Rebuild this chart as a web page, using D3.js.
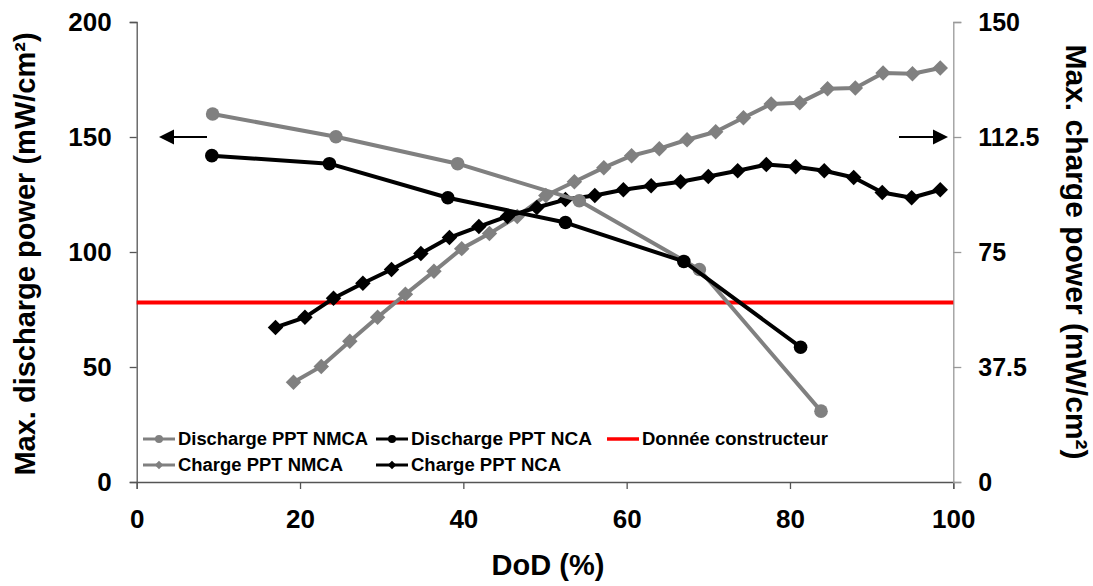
<!DOCTYPE html>
<html><head><meta charset="utf-8">
<script src="https://cdn.jsdelivr.net/npm/d3@7"></script>
<style>
html,body{margin:0;padding:0;background:#fff;}
text{font-family:"Liberation Sans",Arial,sans-serif;font-weight:bold;fill:#000;}
</style></head>
<body>
<svg id="chart" width="1093" height="586"></svg>
<script>
// ---- data ----
const dischargeNMCA_x = [9.3, 24.4, 39.3, 54.2, 68.9, 83.8];
const dischargeNMCA_y = [160, 150.1, 138.4, 122.3, 92.4, 30.8];
const dischargeNCA_x = [9.2, 23.6, 38.1, 52.5, 67.0, 81.3];
const dischargeNCA_y = [141.9, 138.4, 123.6, 112.8, 95.9, 58.6];
const chargeNMCA_x = [19.2, 22.6, 26.1, 29.5, 32.9, 36.4, 39.8, 43.2, 46.6, 50.1, 53.6, 57.2, 60.6, 64.0, 67.4, 70.9, 74.3, 77.7, 81.2, 84.6, 88.0, 91.4, 95.0, 98.4];
const chargeNMCA_y = [32.5, 37.7, 45.9, 53.7, 61.2, 68.7, 76.1, 81.0, 86.6, 93.4, 97.9, 102.5, 106.4, 108.7, 111.6, 114.2, 118.8, 123.3, 123.7, 128.2, 128.5, 133.4, 133.1, 135.0];
const chargeNCA_x = [17.0, 20.6, 24.1, 27.7, 31.2, 34.8, 38.3, 41.9, 45.4, 49.0, 52.5, 56.1, 59.6, 63.0, 66.6, 70.0, 73.6, 77.1, 80.7, 84.2, 87.8, 91.3, 94.9, 98.4];
const chargeNCA_y = [50.4, 53.7, 59.9, 64.8, 69.3, 74.5, 79.7, 83.3, 86.6, 89.5, 92.1, 93.4, 95.3, 96.6, 97.9, 99.6, 101.5, 103.5, 102.8, 101.5, 99.3, 94.4, 92.7, 95.3];
const constructeurValue = 78;
const xTicks = [0, 20, 40, 60, 80, 100];
const yLeftTicks = [0, 50, 100, 150, 200];
const yRightTicks = [0, 37.5, 75, 112.5, 150];
const legendLabels = ["Discharge PPT NMCA", "Discharge PPT NCA", "Donnée constructeur", "Charge PPT NMCA", "Charge PPT NCA"];

// ---- layout ----
const svg = d3.select("#chart");
const L = 136.7, R = 953.3, T = 22, B = 482;
const x = d3.scaleLinear().domain([0, 100]).range([L, R]);
const yL = d3.scaleLinear().domain([0, 200]).range([B, T]);
const yR = d3.scaleLinear().domain([0, 150]).range([B, T]);
const GRAY = "#808080";

// axes
const xAxis = svg.append("g").attr("transform", `translate(0,${B})`)
  .call(d3.axisBottom(x).tickValues(xTicks).tickSize(7).tickPadding(21).tickFormat(d3.format("d")));
const yAxisL = svg.append("g").attr("transform", `translate(${L},0)`)
  .call(d3.axisLeft(yL).tickValues(yLeftTicks).tickSize(7).tickPadding(18).tickFormat(d3.format("d")));
const yAxisR = svg.append("g").attr("transform", `translate(${R},0)`)
  .call(d3.axisRight(yR).tickValues(yRightTicks).tickSize(8).tickPadding(17).tickFormat(d => d));
[xAxis, yAxisL, yAxisR].forEach(g => {
  g.select(".domain").attr("stroke", "#555").attr("stroke-width", 1.3);
  g.selectAll(".tick line").attr("stroke", "#555").attr("stroke-width", 1.3);
  g.selectAll(".tick text").style("font-size", "26px").style("font-family", '"Liberation Sans",Arial,sans-serif').style("font-weight", "bold").attr("fill", "#000");
});
yAxisR.selectAll(".tick text").style("font-size", "25px");
yAxisR.select(".domain").attr("stroke", "#999");
yAxisR.selectAll(".tick line").attr("stroke", "#999");
xAxis.selectAll(".tick text").attr("dy", "0.71em");

// axis titles
svg.append("text").attr("x", 548).attr("y", 575).attr("text-anchor", "middle")
  .style("font-size", "29px").text("DoD (%)");
svg.append("text").attr("transform", `translate(35,254) rotate(-90)`).attr("text-anchor", "middle")
  .style("font-size", "29px").text("Max. discharge power (mW/cm²)");
svg.append("text").attr("transform", `translate(1066,252) rotate(90)`).attr("text-anchor", "middle")
  .style("font-size", "30px").text("Max. charge power (mW/cm²)");

// red line
svg.append("line").attr("x1", L).attr("x2", R).attr("y1", yL(constructeurValue)).attr("y2", yL(constructeurValue))
  .attr("stroke", "#ff0000").attr("stroke-width", 4);

// series
const diamond = d3.symbol().type(d3.symbolSquare).size(120);
function drawSeries(xs, ys, yScale, color, marker) {
  const pts = xs.map((v, i) => [x(v), yScale(ys[i])]);
  svg.append("path").attr("d", d3.line()(pts)).attr("fill", "none").attr("stroke", color)
    .attr("stroke-width", 4).attr("stroke-linejoin", "round");
  const g = svg.append("g");
  pts.forEach(p => {
    if (marker === "circle") {
      g.append("circle").attr("cx", p[0]).attr("cy", p[1]).attr("r", 6.8).attr("fill", color);
    } else {
      g.append("path").attr("d", diamond()).attr("fill", color)
        .attr("transform", `translate(${p[0]},${p[1]}) rotate(45)`);
    }
  });
}
drawSeries(chargeNMCA_x, chargeNMCA_y, yR, GRAY, "diamond");
drawSeries(chargeNCA_x, chargeNCA_y, yR, "#000", "diamond");
drawSeries(dischargeNMCA_x, dischargeNMCA_y, yL, GRAY, "circle");
drawSeries(dischargeNCA_x, dischargeNCA_y, yL, "#000", "circle");

// arrows
function arrow(x1, x2, yy) {
  const dir = Math.sign(x2 - x1);
  svg.append("line").attr("x1", x1).attr("x2", x2 - dir * 10).attr("y1", yy).attr("y2", yy)
    .attr("stroke", "#000").attr("stroke-width", 2);
  svg.append("path").attr("d", `M${x2},${yy} L${x2 - dir * 15},${yy - 7.5} L${x2 - dir * 15},${yy + 7.5} Z`).attr("fill", "#000");
}
arrow(207, 159, 137);
arrow(899, 948, 137);

// legend
const legendItems = [
  {label: legendLabels[0], color: GRAY, marker: "circle", lx: 143, ly: 439, w: 190},
  {label: legendLabels[1], color: "#000", marker: "circle", lx: 376, ly: 439, w: 181},
  {label: legendLabels[2], color: "#ff0000", marker: null, lx: 607, ly: 439, w: 186},
  {label: legendLabels[3], color: GRAY, marker: "diamond", lx: 143, ly: 465, w: 165},
  {label: legendLabels[4], color: "#000", marker: "diamond", lx: 376, ly: 465, w: 150}
];
const lg = svg.append("g");
legendItems.forEach(it => {
  lg.append("line").attr("x1", it.lx).attr("x2", it.lx + 32).attr("y1", it.ly).attr("y2", it.ly)
    .attr("stroke", it.color).attr("stroke-width", it.marker ? 3 : 3.5);
  if (it.marker === "circle") {
    lg.append("circle").attr("cx", it.lx + 16).attr("cy", it.ly).attr("r", 4).attr("fill", it.color);
  } else if (it.marker === "diamond") {
    lg.append("path").attr("d", d3.symbol().type(d3.symbolSquare).size(36)()).attr("fill", it.color)
      .attr("transform", `translate(${it.lx + 16},${it.ly}) rotate(45)`);
  }
  lg.append("text").attr("x", it.lx + 35).attr("y", it.ly).attr("dy", "0.36em")
    .style("font-size", "18px").attr("textLength", it.w).attr("lengthAdjust", "spacingAndGlyphs").text(it.label);
});
</script>
</body></html>
